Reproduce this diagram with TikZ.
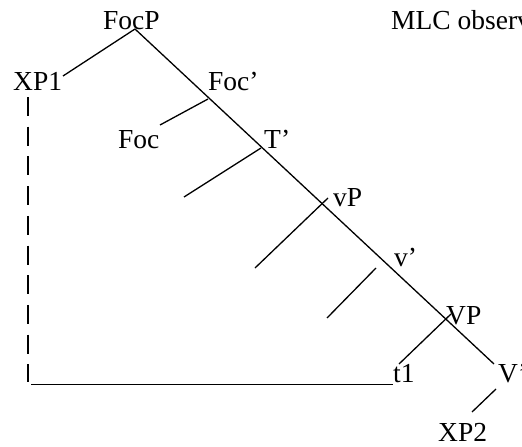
\documentclass[tikz,border=0pt]{standalone}
\usepackage{fontspec}
\setmainfont{Liberation Serif}
\begin{document}
\begin{tikzpicture}[x=1pt,y=-1pt,
  lbl/.style={anchor=base west,inner sep=0pt,font=\fontsize{27.5}{33}\selectfont},
  branch/.style={line width=1.3pt},
  trace/.style={line width=1.4pt,dash pattern=on 19pt off 10.7pt},
  under/.style={line width=1pt}]
\useasboundingbox (0,0) rectangle (522,447);
\clip (0,0) rectangle (522,447);
% labels
\node[lbl] (focp) at (103,29) {FocP};
\node[lbl] (mlc) at (391,29) {MLC observ};
\node[lbl] (xp1) at (13,90) {XP1};
\node[lbl] (focbar) at (208,90) {Foc’};
\node[lbl] (foc) at (118,148) {Foc};
\node[lbl] (tbar) at (264,148) {T’};
\node[lbl] (vp) at (333,206) {vP};
\node[lbl] (vbar) at (394,266) {v’};
\node[lbl] (VP) at (446,324) {VP};
\node[lbl] (t1) at (393,382) {t1};
\node[lbl] (Vbar) at (498,382) {V’};
\node[lbl] (xp2) at (438,441) {XP2};
% branch points
\coordinate (top) at (135,29);
\coordinate (bottom) at (494,364);
\coordinate (xp1e) at (63,76);
\coordinate (fb) at (208,99);
\coordinate (fe) at (160,125);
\coordinate (tb) at (261,148);
\coordinate (te) at (184,197);
\coordinate (vpb) at (328,198);
\coordinate (vpe) at (255,268);
\coordinate (vbb) at (376,268);
\coordinate (vbe) at (327,318);
\coordinate (VPb) at (451,314);
\coordinate (t1e) at (399,364);
\coordinate (Vb) at (496,389);
\coordinate (xp2e) at (472,412);
\coordinate (dtop) at (28,97);
\coordinate (dbot) at (28,382);
\coordinate (ul) at (31,384);
\coordinate (ur) at (393,384);
% lines
\draw[branch] (top) -- (bottom);
\draw[branch] (top) -- (xp1e);
\draw[branch] (fb) -- (fe);
\draw[branch] (tb) -- (te);
\draw[branch] (vpb) -- (vpe);
\draw[branch] (vbb) -- (vbe);
\draw[branch] (VPb) -- (t1e);
\draw[branch] (Vb) -- (xp2e);
\draw[trace] (dtop) -- (dbot);
\draw[under] (ul) -- (ur);
\end{tikzpicture}
\end{document}
